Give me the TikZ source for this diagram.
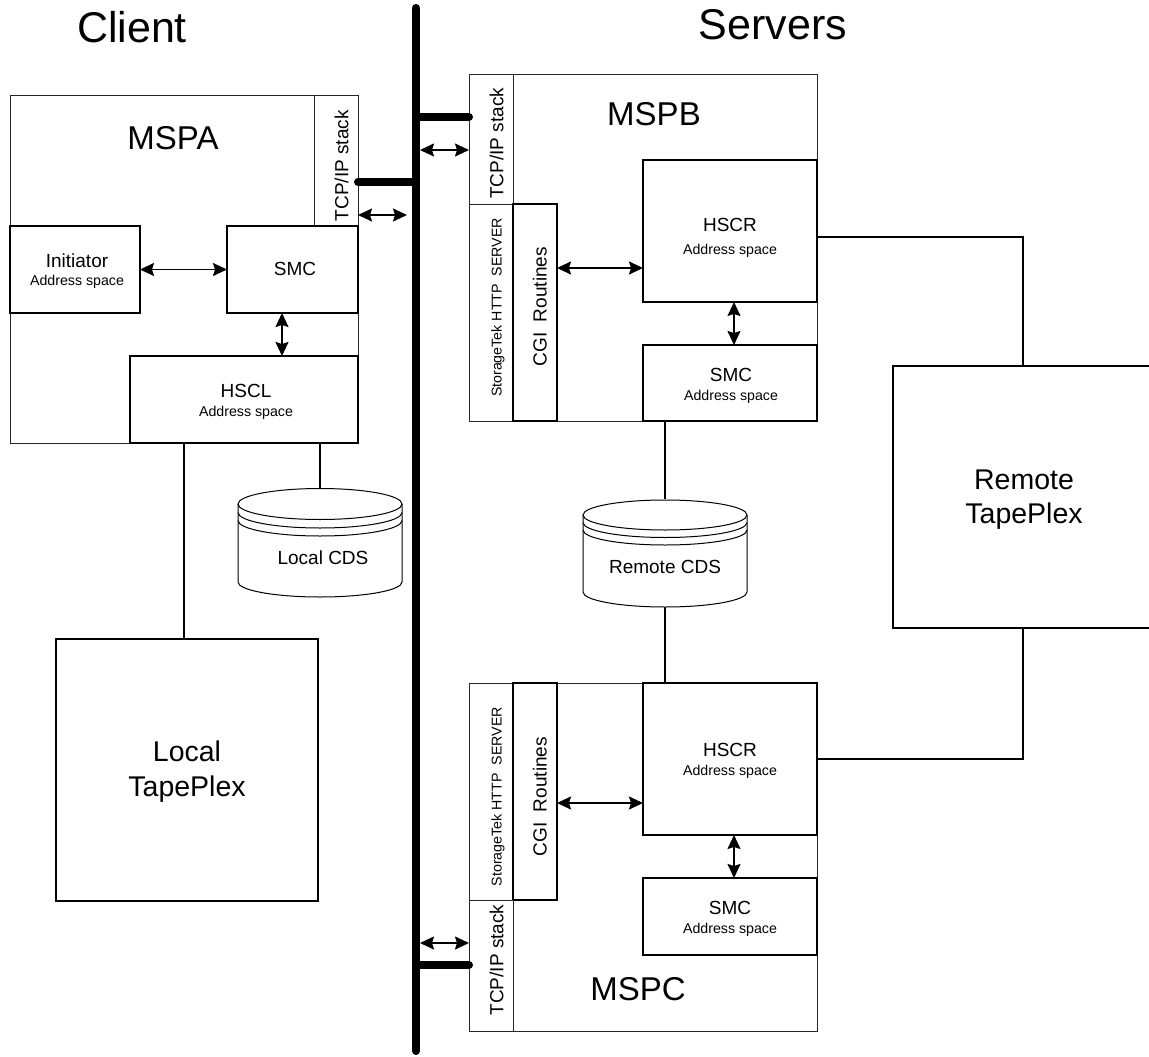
\documentclass[tikz,border=0pt]{standalone}
\usepackage{fontspec}
\setmainfont{Liberation Sans}
\usetikzlibrary{arrows.meta}
\begin{document}
\begin{tikzpicture}[x=1pt,y=-1pt,
  thinbox/.style={draw=black!85, line width=0.9pt, inner sep=0pt, outer sep=0pt},
  midbox/.style={draw=black, line width=1.3pt, inner sep=0pt, outer sep=0pt},
  thickbox/.style={draw=black, line width=1.9pt, inner sep=0pt, outer sep=0pt},
  ghost/.style={inner sep=0pt, outer sep=0pt},
  cyl/.style={draw=black, line width=1pt},
  conn/.style={line width=2.5pt},
  busline/.style={line width=8pt, line cap=round},
  dar/.style={line width=1.7pt, {Stealth[length=14pt,width=13pt,inset=2pt]}-{Stealth[length=14pt,width=13pt,inset=2pt]}},
  txt/.style={inner sep=0pt, outer sep=0pt, anchor=base},
  fA/.style={txt, font=\fontsize{43}{50}\selectfont},
  fB/.style={txt, font=\fontsize{33}{40}\selectfont},
  fC/.style={txt, font=\fontsize{28.5}{34}\selectfont},
  fD/.style={txt, font=\fontsize{19}{22}\selectfont},
  fE/.style={txt, font=\fontsize{14.2}{17}\selectfont},
]
\useasboundingbox (0,0) rectangle (1149,1057);

% ---------- headings ----------
\node[fA] (client) at (132,43) {Client};
\node[fA] (servers) at (773,40) {Servers};

% ---------- bus ----------
\coordinate (bt) at (416,8);
\coordinate (bb) at (416,1051);

% ---------- MSPA ----------
\node[thinbox, minimum width=348pt, minimum height=348pt] (mspa) at (184,269) {};
\node[thinbox, minimum width=44pt, minimum height=131pt] (tcpA) at (336,160.5) {};
\node[thickbox, minimum width=130pt, minimum height=87pt] (initA) at (75,269.5) {};
\node[thickbox, minimum width=131pt, minimum height=87pt] (smcA) at (292.5,269.5) {};
\node[midbox, minimum width=228pt, minimum height=87pt] (hscl) at (244,399.5) {};

% ---------- MSPB ----------
\node[thinbox, minimum width=348pt, minimum height=347pt] (mspb) at (643,247.5) {};
\node[thinbox, minimum width=44pt, minimum height=130pt] (tcpB) at (491,139) {};
\node[thinbox, minimum width=44pt, minimum height=217pt] (httpB) at (491,312.5) {};
\node[midbox, minimum width=44pt, minimum height=217pt] (cgiB) at (535,312.5) {};
\node[thickbox, minimum width=174pt, minimum height=142pt] (hscrB) at (730,231) {};
\node[thickbox, minimum width=174pt, minimum height=76pt] (smcB) at (730,383) {};

% ---------- MSPC ----------
\node[thinbox, minimum width=348pt, minimum height=348pt] (mspc) at (643,857) {};
\node[thinbox, minimum width=44pt, minimum height=217pt] (httpC) at (491,791.5) {};
\node[midbox, minimum width=44pt, minimum height=217pt] (cgiC) at (535,791.5) {};
\node[thinbox, minimum width=44pt, minimum height=131pt] (tcpC) at (491,965.5) {};
\node[thickbox, minimum width=174pt, minimum height=152pt] (hscrC) at (730,759) {};
\node[thickbox, minimum width=174pt, minimum height=77pt] (smcC) at (730,916.5) {};

% ---------- TapePlexes ----------
\node[thickbox, minimum width=262pt, minimum height=262pt] (ltp) at (187,770) {};
\node[thickbox, minimum width=260pt, minimum height=262pt] (rtp) at (1023,497) {};

% ---------- CDS cylinders ----------
\node[ghost, minimum width=164pt, minimum height=110pt] (lcds) at (320,542.5) {};
\node[ghost, minimum width=164pt, minimum height=108pt] (rcds) at (665,553) {};
\begin{scope}[shift={(lcds.center)}]
  \draw[cyl] (-82,-38.5) -- (-82,39.5) arc[start angle=180, end angle=0, x radius=82, y radius=15] -- (82,-38.5);
  \draw[cyl] (0,-38.5) ellipse [x radius=82, y radius=15.5];
  \draw[cyl] (-82,-30) arc[start angle=180, end angle=0, x radius=82, y radius=15.5];
  \draw[cyl] (-82,-22) arc[start angle=180, end angle=0, x radius=82, y radius=15.5];
\end{scope}
\begin{scope}[shift={(rcds.center)}]
  \draw[cyl] (-82,-38) -- (-82,39) arc[start angle=180, end angle=0, x radius=82, y radius=15] -- (82,-38);
  \draw[cyl] (0,-38) ellipse [x radius=82, y radius=15];
  \draw[cyl] (-82,-30.5) arc[start angle=180, end angle=0, x radius=82, y radius=15];
  \draw[cyl] (-82,-23) arc[start angle=180, end angle=0, x radius=82, y radius=15];
\end{scope}

% ---------- bus and stubs ----------
\draw[busline] (bt) -- (bb);
\draw[busline] (tcpA.east |- 0,182) -- (bt |- 0,182);
\draw[busline] (tcpB.west |- 0,117) -- (bt |- 0,117);
\draw[busline] (tcpC.west |- 0,965) -- (bt |- 0,965);

% ---------- connections ----------
\draw[conn] ([xshift=-3pt]ltp.north) -- ([xshift=-3pt]ltp.north |- hscl.south);
\draw[conn] (lcds.north) -- (lcds.north |- hscl.south);
\draw[conn] (rcds.north) -- (rcds.north |- smcB.south);
\draw[conn] (rcds.south) -- (rcds.south |- mspc.north);
\draw[conn] ([yshift=-6pt]hscrB.east) -| (rtp.north);
\draw[conn] (hscrC.east) -| (rtp.south);

% ---------- arrows ----------
\draw[dar] (tcpA.east |- 0,215) -- ([xshift=-9pt]bt |- 0,215);
\draw[dar] ([xshift=4pt]bt |- 0,150) -- (tcpB.west |- 0,150);
\draw[dar] ([xshift=4pt]bt |- 0,943) -- (tcpC.west |- 0,943);
\draw[dar] (initA.east) -- (smcA.west);
\draw[dar] ([xshift=-10.5pt]smcA.south) -- ([xshift=-10.5pt]smcA.south |- hscl.north);
\draw[dar] (cgiB.east |- 0,268) -- (hscrB.west |- 0,268);
\draw[dar] ([xshift=4pt]hscrB.south) -- ([xshift=4pt]smcB.north);
\draw[dar] (cgiC.east |- 0,803) -- (hscrC.west |- 0,803);
\draw[dar] ([xshift=4pt]hscrC.south) -- ([xshift=4pt]smcC.north);

% ---------- labels ----------
\node[fB] (mspaL) at (173,149) {MSPA};
\node[fB] (mspbL) at (654,125) {MSPB};
\node[fB] (mspcL) at (638,1000) {MSPC};
\node[fD] (initL) at (77,267.7) {Initiator};
\node[fE] (initL2) at (77,285) {Address space};
\node[fD] (smcAL) at (295,275) {SMC};
\node[fD] (hsclL) at (246,397.3) {HSCL};
\node[fE] (hsclL2) at (246,416) {Address space};
\node[fD] (hscrBL) at (730,231.7) {HSCR};
\node[fE] (hscrBL2) at (730,254) {Address space};
\node[fD] (smcBL) at (731,381) {SMC};
\node[fE] (smcBL2) at (731,400) {Address space};
\node[fD] (hscrCL) at (730,756) {HSCR};
\node[fE] (hscrCL2) at (730,775) {Address space};
\node[fD] (smcCL) at (730,914.3) {SMC};
\node[fE] (smcCL2) at (730,933.3) {Address space};
\node[fD] (lcdsL) at (323,564.3) {Local CDS};
\node[fD] (rcdsL) at (665,573.3) {Remote CDS};
\node[fC] (ltpL) at (187,761.7) {Local};
\node[fC] (ltpL2) at (187,796) {TapePlex};
\node[fC] (rtpL) at (1024,489.5) {Remote};
\node[fC] (rtpL2) at (1024,523.8) {TapePlex};
\node[fD, rotate=90] (tcpAL) at (348.3,165.8) {TCP/IP stack};
\node[fD, rotate=90] (tcpBL) at (503.3,143.3) {TCP/IP stack};
\node[fD, rotate=90] (tcpCL) at (503.3,960) {TCP/IP stack};
\node[fE, rotate=90] (httpBL) at (501.7,307.5) {StorageTek HTTP\ \ SERVER};
\node[fE, rotate=90] (httpCL) at (501.7,796.7) {StorageTek HTTP\ \ SERVER};
\node[fD, rotate=90] (cgiBL) at (546.7,306.7) {CGI\ \ Routines};
\node[fD, rotate=90] (cgiCL) at (546.7,796.7) {CGI\ \ Routines};
\end{tikzpicture}
\end{document}
